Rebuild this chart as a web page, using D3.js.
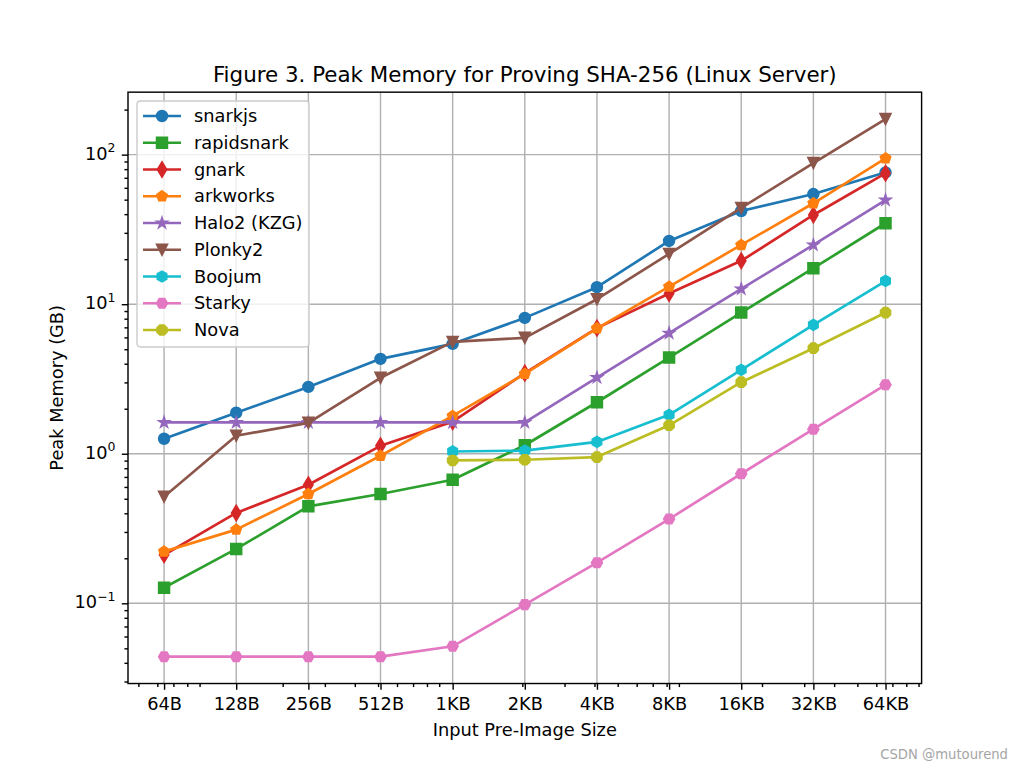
<!DOCTYPE html>
<html>
<head>
<meta charset="utf-8">
<script src="https://cdn.jsdelivr.net/npm/d3@7/dist/d3.min.js"></script>
<style>
  html, body { margin: 0; padding: 0; background: #fff; }
  svg { display: block; }
  text { font-family: "DejaVu Sans", sans-serif; fill: #000; }
</style>
</head>
<body>
<svg id="chart" width="1024" height="768"></svg>
<script>
// ---------------- data ----------------
const sizeLabels = ["64B","128B","256B","512B","1KB","2KB","4KB","8KB","16KB","32KB","64KB"];
const sizeBytes  = [64,128,256,512,1024,2048,4096,8192,16384,32768,65536];

const seriesNames   = ["snarkjs","rapidsnark","gnark","arkworks","Halo2 (KZG)","Plonky2","Boojum","Starky","Nova"];
const seriesColors  = ["#1f77b4","#2ca02c","#d62728","#ff7f0e","#9467bd","#8c564b","#17becf","#e377c2","#bcbd22"];
const seriesMarkers = ["o","s","d","p","*","v","h","H","8"];

const snarkjs    = [1.26, 1.88, 2.80, 4.31, 5.43, 8.10, 13.0, 26.5, 42.0, 54.5, 76.0];
const rapidsnark = [0.127, 0.231, 0.445, 0.538, 0.67, 1.14, 2.21, 4.40, 8.79, 17.4, 34.8];
const gnark      = [0.211, 0.402, 0.621, 1.13, 1.64, 3.46, 6.92, 11.8, 19.5, 39.5, 75.0];
const arkworks   = [0.222, 0.311, 0.538, 0.97, 1.79, 3.42, 6.90, 13.1, 24.9, 47.3, 94.5];
const halo2      = [1.62, 1.62, 1.62, 1.62, 1.62, 1.62, 3.23, 6.40, 12.65, 24.9, 49.7];
const plonky2    = [0.516, 1.32, 1.61, 3.22, 5.60, 5.96, 10.8, 21.7, 44.0, 87.9, 173];
const boojum     = [null, null, null, null, 1.036, 1.05, 1.20, 1.82, 3.64, 7.27, 14.3];
const starky     = [0.044, 0.044, 0.044, 0.044, 0.0516, 0.098, 0.187, 0.366, 0.735, 1.46, 2.89];
const nova       = [null, null, null, null, 0.902, 0.912, 0.95, 1.55, 3.01, 5.08, 8.79];

const seriesValues = [snarkjs, rapidsnark, gnark, arkworks, halo2, plonky2, boojum, starky, nova];

const yTickValues = [0.1, 1, 10, 100];
const yTickExps   = ["\u22121", "0", "1", "2"];

const titleText  = "Figure 3. Peak Memory for Proving SHA-256 (Linux Server)";
const xLabelText = "Input Pre-Image Size";
const yLabelText = "Peak Memory (GB)";
const watermark  = "CSDN @mutourend";

// ---------------- layout ----------------
const W = 1024, H = 768;
const L = 128, R = 921.6, T = 92.16, B = 683.52;
const PT = 1.78;              // px per point
const FS = 10 * PT;           // base font size
const LW = 1.5 * PT;          // line width
const MS = 6 * PT;            // marker size
const MEW = 1 * PT;           // marker edge width

const svg = d3.select("#chart");

// scales (log with matplotlib 5% margins)
function logDomain(minV, maxV) {
  const a = Math.log10(minV), b = Math.log10(maxV), m = (b - a) * 0.05;
  return [Math.pow(10, a - m), Math.pow(10, b + m)];
}
const x = d3.scaleLog().domain(logDomain(d3.min(sizeBytes), d3.max(sizeBytes))).range([L, R]);
const allVals = seriesValues.flat().filter(v => v != null);
const y = d3.scaleLog().domain(logDomain(d3.min(allVals), d3.max(allVals))).range([B, T]);

// minor tick values (2..9 x 10^k) inside the domains
function minorTicks(dom) {
  const out = [];
  for (let k = -4; k <= 6; k++) for (let s = 2; s <= 9; s++) {
    const v = s * Math.pow(10, k);
    if (v >= dom[0] && v <= dom[1]) out.push(v);
  }
  return out;
}

// ---------------- grid ----------------
const grid = svg.append("g");
grid.selectAll("line.gx").data(sizeBytes).enter().append("line")
  .attr("x1", d => x(d)).attr("x2", d => x(d)).attr("y1", T).attr("y2", B)
  .attr("stroke", "#b0b0b0").attr("stroke-width", 0.8 * PT);
grid.selectAll("line.gy").data(yTickValues).enter().append("line")
  .attr("y1", d => y(d)).attr("y2", d => y(d)).attr("x1", L).attr("x2", R)
  .attr("stroke", "#b0b0b0").attr("stroke-width", 0.8 * PT);

// ---------------- markers ----------------
function polygon(n, r, rotDeg) {
  const pts = [];
  for (let i = 0; i < n; i++) {
    const a = (rotDeg + i * 360 / n) * Math.PI / 180;
    pts.push([r * Math.sin(a), -r * Math.cos(a)]);
  }
  return "M" + pts.map(p => p[0].toFixed(2) + "," + p[1].toFixed(2)).join("L") + "Z";
}
function markerPath(type, ms) {
  const r = ms / 2;
  switch (type) {
    case "o": return `M${-r},0A${r},${r} 0 1,0 ${r},0A${r},${r} 0 1,0 ${-r},0Z`;
    case "s": return `M${-r},${-r}H${r}V${r}H${-r}Z`;
    case "d": { const h = 0.7071 * ms, w = 0.7071 * 0.6 * ms; return `M0,${-h}L${w},0L0,${h}L${-w},0Z`; }
    case "p": return polygon(5, r, 0);
    case "*": {
      const pts = [];
      for (let i = 0; i < 10; i++) {
        const rr = i % 2 === 0 ? r : r * 0.381966;
        const a = i * 36 * Math.PI / 180;
        pts.push([rr * Math.sin(a), -rr * Math.cos(a)]);
      }
      return "M" + pts.map(p => p[0].toFixed(2) + "," + p[1].toFixed(2)).join("L") + "Z";
    }
    case "v": return `M${-r},${-r}L${r},${-r}L0,${r}Z`;
    case "h": return polygon(6, r, 0);
    case "H": return polygon(6, r, 30);
    case "8": return polygon(8, r, 22.5);
  }
}

// ---------------- series ----------------
const clipId = "plotclip";
svg.append("clipPath").attr("id", clipId).append("rect")
  .attr("x", L).attr("y", T).attr("width", R - L).attr("height", B - T);

const plot = svg.append("g").attr("clip-path", `url(#${clipId})`);
const line = d3.line().defined(d => d.v != null).x(d => x(d.b)).y(d => y(d.v));

seriesNames.forEach((name, i) => {
  const pts = sizeBytes.map((b, j) => ({ b: b, v: seriesValues[i][j] }));
  const g = plot.append("g");
  g.append("path").datum(pts).attr("d", line)
    .attr("fill", "none").attr("stroke", seriesColors[i]).attr("stroke-width", LW)
    .attr("stroke-linejoin", "round").attr("stroke-linecap", "square");
  g.selectAll("path.m").data(pts.filter(d => d.v != null)).enter().append("path")
    .attr("d", markerPath(seriesMarkers[i], MS))
    .attr("transform", d => `translate(${x(d.b)},${y(d.v)})`)
    .attr("fill", seriesColors[i]).attr("stroke", seriesColors[i]).attr("stroke-width", MEW)
    .attr("stroke-linejoin", "miter");
});

// ---------------- axes ----------------
const xAxis = d3.axisBottom(x).tickValues(sizeBytes).tickFormat((d, i) => sizeLabels[i])
  .tickSize(3.5 * PT).tickPadding(3.5 * PT);
const xMinorAxis = d3.axisBottom(x).tickValues(minorTicks(x.domain())).tickFormat("")
  .tickSize(2 * PT);
const yAxis = d3.axisLeft(y).tickValues(yTickValues).tickFormat("")
  .tickSize(3.5 * PT).tickPadding(3.5 * PT);
const yMinorAxis = d3.axisLeft(y).tickValues(minorTicks(y.domain())).tickFormat("")
  .tickSize(2 * PT);

function styleAxis(g) {
  g.select(".domain").remove();
  g.selectAll(".tick line").attr("stroke", "#000").attr("stroke-width", 0.8 * PT);
}

const gx = svg.append("g").attr("transform", `translate(0,${B})`).call(xAxis).call(styleAxis);
gx.selectAll(".tick text").attr("font-size", FS).attr("font-family", "DejaVu Sans")
  .attr("fill", "#000").attr("y", 26.5).attr("dy", 0);
svg.append("g").attr("transform", `translate(0,${B})`).call(xMinorAxis).call(styleAxis);

svg.append("g").attr("transform", `translate(${L},0)`).call(yAxis).call(styleAxis);
svg.append("g").attr("transform", `translate(${L},0)`).call(yMinorAxis).call(styleAxis);

// y tick labels as 10^k
const yl = svg.append("g");
yTickValues.forEach((v, i) => {
  const t = yl.append("text").attr("x", L - 7 * PT).attr("y", y(v) + 5)
    .attr("text-anchor", "end").attr("font-size", FS);
  t.append("tspan").text("10");
  t.append("tspan").attr("font-size", FS * 0.7).attr("dy", -7.5).text(yTickExps[i]);
});

// spines
svg.append("rect").attr("x", L).attr("y", T).attr("width", R - L).attr("height", B - T)
  .attr("fill", "none").attr("stroke", "#000").attr("stroke-width", 0.8 * PT);

// ---------------- labels ----------------
svg.append("text").attr("x", (L + R) / 2).attr("y", 82).attr("text-anchor", "middle")
  .attr("font-size", 21.4).text(titleText);
svg.append("text").attr("x", (L + R) / 2).attr("y", 736).attr("text-anchor", "middle")
  .attr("font-size", FS).text(xLabelText);
svg.append("text").attr("transform", `translate(63,${(T + B) / 2}) rotate(-90)`)
  .attr("text-anchor", "middle").attr("font-size", FS).text(yLabelText);

// ---------------- legend ----------------
const lg = svg.append("g");
const lx = 137, ly = 101, lw = 172, lh = 246;
lg.append("rect").attr("x", lx).attr("y", ly).attr("width", lw).attr("height", lh)
  .attr("rx", 3.4).attr("ry", 3.4)
  .attr("fill", "#fff").attr("fill-opacity", 0.8).attr("stroke", "#cccccc").attr("stroke-width", 0.8 * PT);
seriesNames.forEach((name, i) => {
  const cy = 116 + i * 26.75;
  lg.append("line").attr("x1", 143).attr("x2", 181).attr("y1", cy).attr("y2", cy)
    .attr("stroke", seriesColors[i]).attr("stroke-width", LW);
  lg.append("path").attr("d", markerPath(seriesMarkers[i], MS))
    .attr("transform", `translate(162,${cy})`)
    .attr("fill", seriesColors[i]).attr("stroke", seriesColors[i]).attr("stroke-width", MEW);
  lg.append("text").attr("x", 194).attr("y", cy + 6).attr("font-size", FS).text(name);
});

// ---------------- watermark ----------------
svg.append("text").attr("x", 1008).attr("y", 759).attr("text-anchor", "end")
  .attr("font-size", 13.2).attr("font-family", "Liberation Sans, Arial, sans-serif")
  .style("fill", "#a6a6a6").text(watermark);
</script>
</body>
</html>
